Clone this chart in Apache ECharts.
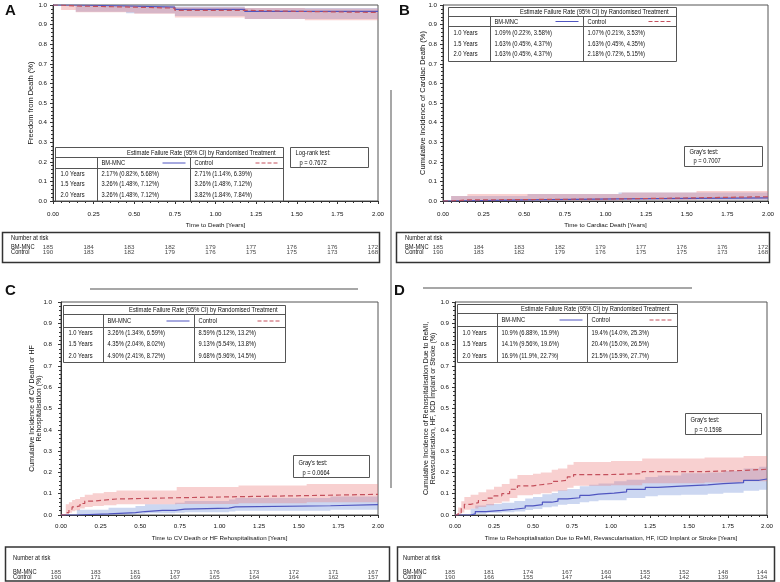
<!DOCTYPE html>
<html><head><meta charset="utf-8">
<script src="https://cdn.jsdelivr.net/npm/echarts@6/dist/echarts.min.js"></script>
<style>html,body{margin:0;padding:0;background:#fff}#c{width:780px;height:582px}</style>
</head><body><div id="c"></div>
<script>
// ---------------- DATA ----------------
const riskTimes = [0, 0.25, 0.5, 0.75, 1.0, 1.25, 1.5, 1.75, 2.0];
const riskA_bm  = [185, 184, 183, 182, 179, 177, 176, 176, 172];
const riskA_ctl = [190, 183, 182, 179, 176, 175, 175, 173, 168];
const riskB_bm  = [185, 184, 183, 182, 179, 177, 176, 176, 172];
const riskB_ctl = [190, 183, 182, 179, 176, 175, 175, 173, 168];
const riskC_bm  = [185, 183, 181, 179, 176, 173, 172, 171, 167];
const riskC_ctl = [190, 171, 169, 167, 165, 164, 164, 162, 157];
const riskD_bm  = [185, 181, 174, 167, 160, 155, 152, 148, 144];
const riskD_ctl = [190, 166, 155, 147, 144, 142, 142, 139, 134];

// Panel A: freedom from death
const A_bm_t   = [0, 0.14, 0.45, 0.75, 1.18, 2.0];
const A_bm_est = [1, 0.995, 0.989, 0.978, 0.967, 0.967];
const A_bm_lo  = [1, 0.965, 0.958, 0.944, 0.929, 0.929];
const A_bm_hi  = [1, 0.999, 0.997, 0.992, 0.985, 0.985];
const A_ctl_t   = [0, 0.05, 0.14, 0.5, 0.75, 1.18, 1.55, 2.0];
const A_ctl_est = [1, 0.995, 0.989, 0.984, 0.973, 0.967, 0.962, 0.962];
const A_ctl_lo  = [1, 0.975, 0.963, 0.955, 0.936, 0.929, 0.922, 0.922];
const A_ctl_hi  = [1, 0.999, 0.996, 0.994, 0.989, 0.985, 0.982, 0.982];

// Panel B: cardiac death
const B_bm_t   = [0, 0.05, 0.52, 1.08, 2.0];
const B_bm_est = [0, 0.0054, 0.0109, 0.0163, 0.0163];
const B_bm_lo  = [0, 0.001, 0.0022, 0.0045, 0.0045];
const B_bm_hi  = [0, 0.025, 0.0358, 0.0437, 0.0437];
const B_ctl_t   = [0, 0.05, 0.15, 1.10, 1.56, 2.0];
const B_ctl_est = [0, 0.0053, 0.0107, 0.0163, 0.0218, 0.0218];
const B_ctl_lo  = [0, 0.001, 0.0021, 0.0045, 0.0072, 0.0072];
const B_ctl_hi  = [0, 0.025, 0.0353, 0.0435, 0.0515, 0.0515];

// Panel C: CV death or HF rehospitalisation
const C_bm_t   = [0, 0.1, 0.3, 0.47, 0.53, 0.64, 0.72, 0.78, 1.06, 1.1, 1.7, 2.0];
const C_bm_est = [0, 0.0054, 0.0108, 0.0163, 0.0217, 0.0217, 0.0272, 0.0326, 0.0381, 0.0435, 0.049, 0.049];
const C_bm_lo  = [0, 0.0008, 0.0028, 0.0053, 0.0082, 0.0082, 0.011, 0.0134, 0.0168, 0.0204, 0.0241, 0.0241];
const C_bm_hi  = [0, 0.025, 0.034, 0.042, 0.05, 0.05, 0.058, 0.0659, 0.073, 0.0802, 0.0872, 0.0872];
const C_ctl_t   = [0, 0.03, 0.05, 0.07, 0.09, 0.12, 0.15, 0.2, 0.27, 0.35, 0.73, 1.12, 1.55, 2.0];
const C_ctl_est = [0, 0.011, 0.027, 0.038, 0.043, 0.054, 0.065, 0.07, 0.075, 0.081, 0.086, 0.091, 0.097, 0.097];
const C_ctl_lo  = [0, 0.002, 0.01, 0.018, 0.022, 0.03, 0.038, 0.042, 0.046, 0.05, 0.0512, 0.0554, 0.0596, 0.0596];
const C_ctl_hi  = [0, 0.05, 0.06, 0.07, 0.075, 0.085, 0.095, 0.102, 0.108, 0.115, 0.132, 0.138, 0.145, 0.145];

// Panel D: rehospitalisation composite
const D_bm_t   = [0, 0.1, 0.13, 0.2, 0.3, 0.38, 0.45, 0.5, 0.56, 0.62, 0.66, 0.72, 0.8, 0.86, 0.92, 1.02, 1.1, 1.22, 1.3, 1.45, 1.62, 1.72, 1.85, 1.95, 2.0];
const D_bm_est = [0, 0.005, 0.016, 0.022, 0.027, 0.033, 0.043, 0.049, 0.06, 0.065, 0.076, 0.081, 0.092, 0.098, 0.103, 0.109, 0.12, 0.13, 0.136, 0.141, 0.147, 0.152, 0.163, 0.169, 0.169];
const D_bm_lo  = [0, 0.0005, 0.006, 0.01, 0.013, 0.017, 0.024, 0.028, 0.036, 0.04, 0.048, 0.052, 0.06, 0.065, 0.069, 0.0688, 0.08, 0.088, 0.093, 0.0956, 0.1, 0.105, 0.114, 0.119, 0.119];
const D_bm_hi  = [0, 0.03, 0.045, 0.052, 0.058, 0.066, 0.077, 0.085, 0.097, 0.103, 0.116, 0.122, 0.135, 0.142, 0.148, 0.159, 0.165, 0.178, 0.185, 0.196, 0.2, 0.206, 0.218, 0.227, 0.227];
const D_ctl_t   = [0, 0.02, 0.04, 0.06, 0.1, 0.15, 0.2, 0.25, 0.3, 0.35, 0.4, 0.5, 0.55, 0.62, 0.66, 0.72, 0.76, 1.0, 1.2, 1.6, 1.85, 2.0];
const D_ctl_est = [0, 0.011, 0.032, 0.05, 0.058, 0.068, 0.079, 0.09, 0.1, 0.121, 0.137, 0.142, 0.148, 0.158, 0.163, 0.179, 0.19, 0.194, 0.204, 0.209, 0.215, 0.215];
const D_ctl_lo  = [0, 0.001, 0.012, 0.025, 0.031, 0.038, 0.046, 0.055, 0.063, 0.08, 0.093, 0.097, 0.102, 0.11, 0.114, 0.128, 0.137, 0.14, 0.149, 0.153, 0.159, 0.159];
const D_ctl_hi  = [0, 0.035, 0.065, 0.085, 0.095, 0.107, 0.12, 0.133, 0.145, 0.17, 0.188, 0.194, 0.2, 0.212, 0.218, 0.236, 0.249, 0.253, 0.265, 0.27, 0.277, 0.277];

const tabA = [['1.0 Years','2.17% (0.82%, 5.68%)','2.71% (1.14%, 6.39%)'],['1.5 Years','3.26% (1.48%, 7.12%)','3.26% (1.48%, 7.12%)'],['2.0 Years','3.26% (1.48%, 7.12%)','3.82% (1.84%, 7.84%)']];
const tabB = [['1.0 Years','1.09% (0.22%, 3.58%)','1.07% (0.21%, 3.53%)'],['1.5 Years','1.63% (0.45%, 4.37%)','1.63% (0.45%, 4.35%)'],['2.0 Years','1.63% (0.45%, 4.37%)','2.18% (0.72%, 5.15%)']];
const tabC = [['1.0 Years','3.26% (1.34%, 6.59%)','8.59% (5.12%, 13.2%)'],['1.5 Years','4.35% (2.04%, 8.02%)','9.13% (5.54%, 13.8%)'],['2.0 Years','4.90% (2.41%, 8.72%)','9.68% (5.96%, 14.5%)']];
const tabD = [['1.0 Years','10.9% (6.88%, 15.9%)','19.4% (14.0%, 25.3%)'],['1.5 Years','14.1% (9.56%, 19.6%)','20.4% (15.0%, 26.5%)'],['2.0 Years','16.9% (11.9%, 22.7%)','21.5% (15.9%, 27.7%)']];
const tableTitle = 'Estimate Failure Rate (95% CI) by Randomised Treatment';
const groups = ['BM-MNC', 'Control'];
const testA = ['Log-rank test:', 'p = 0.7672'];
const testB = ["Gray's test:", 'p = 0.7007'];
const testC = ["Gray's test:", 'p = 0.0664'];
const testD = ["Gray's test:", 'p = 0.1598'];
const xTitles = ['Time to Death [Years]', 'Time to Cardiac Death [Years]', 'Time to CV Death or HF Rehospitalisation [Years]', 'Time to Rehospitalisation Due to ReMI, Revascularisation, HF, ICD Implant or Stroke [Years]'];
const yTitles = ['Freedom from Death (%)', 'Cumulative Incidence of Cardiac Death (%)', 'Cumulative Incidence of CV Death or HF\nRehospitalisation (%)', 'Cumulative Incidence of Rehospitalisation Due to ReMI,\nRevascularisation, HF, ICD Implant or Stroke (%)'];
const panelLetters = ['A', 'B', 'C', 'D'];

// ---------------- STYLE / LAYOUT ----------------
const FR = "'Liberation Sans',Arial,sans-serif";
const NARROW = 0.82;   // horizontal squeeze to emulate a narrow sans face
const BLUE = '#4f55c0', RED = '#c4505c';
const BLUE_BAND = 'rgba(110,140,215,0.35)', RED_BAND = 'rgba(235,120,120,0.35)';
const TXT = '#111', BORDER = '#555';

const panels = [
  { grid:{left:53, top:5, width:325, height:196}, risk:{left:53, top:244.5, width:325}, yGap:19, yMargin:6, xMargin:10, xGap:21, yFs:7.5,
    bm:[A_bm_t,A_bm_est,A_bm_lo,A_bm_hi], ctl:[A_ctl_t,A_ctl_est,A_ctl_lo,A_ctl_hi], rb:riskA_bm, rc:riskA_ctl },
  { grid:{left:443, top:5, width:325, height:196}, risk:{left:443, top:244.5, width:325}, yGap:17, yMargin:6, xMargin:10, xGap:21, yFs:7.5,
    bm:[B_bm_t,B_bm_est,B_bm_lo,B_bm_hi], ctl:[B_ctl_t,B_ctl_est,B_ctl_lo,B_ctl_hi], rb:riskB_bm, rc:riskB_ctl },
  { grid:{left:61, top:302, width:317, height:213}, risk:{left:61, top:569.5, width:317}, yGap:18, yMargin:9, xMargin:8, xGap:20, yFs:7,
    bm:[C_bm_t,C_bm_est,C_bm_lo,C_bm_hi], ctl:[C_ctl_t,C_ctl_est,C_ctl_lo,C_ctl_hi], rb:riskC_bm, rc:riskC_ctl },
  { grid:{left:455, top:302, width:312, height:213}, risk:{left:455, top:569.5, width:312}, yGap:18, yMargin:6, xMargin:8, xGap:20, yFs:7,
    bm:[D_bm_t,D_bm_est,D_bm_lo,D_bm_hi], ctl:[D_ctl_t,D_ctl_est,D_ctl_lo,D_ctl_hi], rb:riskD_bm, rc:riskD_ctl }
];

const grids = [], xAxes = [], yAxes = [], series = [];
const pairs = (t, v) => t.map((x, i) => [x, v[i]]);

function bandSeries(k, d, col) {
  // d = [times, est, lo, hi]; a single step-shaped polygon drawn through the axis scales
  return {
    type:'custom', xAxisIndex:k, yAxisIndex:k, silent:true, z:1, clip:true,
    data:d[0].map((t, i) => [t, d[2][i], d[3][i]]),
    renderItem:(params, api) => {
      if (params.dataIndex !== 0) return null;
      const t = d[0], lo = d[2], hi = d[3], n = t.length;
      const up = [], dn = [];
      for (let i = 0; i < n; i++) {
        const tn = i < n - 1 ? t[i + 1] : t[i];
        up.push(api.coord([t[i], hi[i]]), api.coord([tn, hi[i]]));
        dn.push(api.coord([t[i], lo[i]]), api.coord([tn, lo[i]]));
      }
      return { type:'polygon', shape:{ points:up.concat(dn.reverse()) }, style:{ fill:col, stroke:null } };
    }
  };
}

panels.forEach((p, k) => {
  grids.push(Object.assign({ show:true, borderColor:BORDER, borderWidth:1, backgroundColor:'transparent' }, p.grid));
  xAxes.push({
    gridIndex:k, type:'value', min:0, max:2, interval:0.25,
    name:xTitles[k], nameLocation:'middle', nameGap:p.xGap, nameMoveOverlap:false,
    nameTextStyle:{ fontFamily:FR, fontSize:6.2, color:TXT },
    axisLine:{ show:true, onZero:false, lineStyle:{ color:'#333', width:1 } },
    axisTick:{ show:true, length:3, lineStyle:{ color:'#333' } },
    minorTick:{ show:true, splitNumber:5, length:2, lineStyle:{ color:'#333' } },
    splitLine:{ show:false },
    axisLabel:{ fontFamily:FR, fontSize:6.2, color:TXT, margin:p.xMargin, formatter:v => v.toFixed(2) }
  });
  yAxes.push({
    gridIndex:k, type:'value', min:0, max:1, interval:0.1,
    name:yTitles[k], nameLocation:'middle', nameGap:p.yGap, nameRotate:90, nameMoveOverlap:false,
    nameTextStyle:{ fontFamily:FR, fontSize:p.yFs, color:TXT, lineHeight:7 },
    axisLine:{ show:true, onZero:false, lineStyle:{ color:'#333', width:1 } },
    axisTick:{ show:true, length:3, lineStyle:{ color:'#333' } },
    minorTick:{ show:true, splitNumber:5, length:2, lineStyle:{ color:'#333' } },
    splitLine:{ show:false },
    axisLabel:{ fontFamily:FR, fontSize:6.2, color:TXT, margin:p.yMargin, formatter:v => v.toFixed(1) }
  });
  series.push(bandSeries(k, p.bm, BLUE_BAND));
  series.push(bandSeries(k, p.ctl, RED_BAND));
  series.push({ type:'line', xAxisIndex:k, yAxisIndex:k, step:'end', symbol:'none', silent:true, z:3,
    lineStyle:{ color:BLUE, width:1.2 }, data:pairs(p.bm[0], p.bm[1]) });
  series.push({ type:'line', xAxisIndex:k, yAxisIndex:k, step:'end', symbol:'none', silent:true, z:3,
    lineStyle:{ color:RED, width:1.2, type:[5,3] }, data:pairs(p.ctl[0], p.ctl[1]) });
});

// risk-table grids (hidden axes aligned with the time scale)
panels.forEach((p, k) => {
  const gi = 4 + k;
  grids.push({ left:p.risk.left, top:p.risk.top, width:p.risk.width, height:10, show:false });
  xAxes.push({ gridIndex:gi, type:'value', min:0, max:2, show:false });
  yAxes.push({ gridIndex:gi, type:'category', data:groups, inverse:true, show:false });
  const data = [];
  riskTimes.forEach((t, i) => { data.push([t, groups[0], p.rb[i]]); data.push([t, groups[1], p.rc[i]]); });
  series.push({ type:'scatter', xAxisIndex:gi, yAxisIndex:gi, symbol:'circle', symbolSize:1, silent:true,
    itemStyle:{ color:'rgba(0,0,0,0)' }, data,
    label:{ show:true, position:'inside', align:'center', verticalAlign:'middle', offset:[-5,0],
      formatter:q => String(q.value[2]), fontFamily:FR, fontSize:6.2, color:TXT } });
});

// ---------------- GRAPHICS (tables, boxes, labels) ----------------
const G = [];
const txt = (s, x, y, o, sx) => G.push({ type:'text', silent:true, z:20, x, y, scaleX:(sx === undefined ? NARROW : sx),
  style:Object.assign({ text:s, x:0, y:0, fill:TXT, fontFamily:FR, fontSize:7, align:'left', verticalAlign:'middle' }, o || {}) });
const rect = (x, y, w, h, lw, col) => G.push({ type:'rect', silent:true, z:19, shape:{ x, y, width:w, height:h }, style:{ fill:'#fff', stroke:col || BORDER, lineWidth:lw || 1 } });
const rectNoFill = (x, y, w, h, lw, col) => G.push({ type:'rect', silent:true, z:19, shape:{ x, y, width:w, height:h }, style:{ fill:'none', stroke:col || BORDER, lineWidth:lw || 1 } });
const line = (x1, y1, x2, y2, o) => G.push({ type:'line', silent:true, z:20, shape:{ x1, y1, x2, y2 }, style:Object.assign({ stroke:BORDER, lineWidth:1 }, o || {}) });

function table(L, rows) {
  rect(L.x, L.y, L.r - L.x, L.b - L.y, 1);
  line(L.x, L.l1, L.r, L.l1); line(L.x, L.l2, L.r, L.l2);
  line(L.c1, L.l1, L.c1, L.b); line(L.c2, L.l1, L.c2, L.b);
  txt(tableTitle, L.r - 8, (L.y + L.l1) / 2 + 0.5, { align:'right' });
  const hy = (L.l1 + L.l2) / 2;
  txt(groups[0], L.c1 + 4, hy + 0.5); txt(groups[1], L.c2 + 4, hy + 0.5);
  line(L.c2 - 28, hy, L.c2 - 5, hy, { stroke:BLUE, lineWidth:1 });
  line(L.r - 28, hy, L.r - 5, hy, { stroke:RED, lineWidth:1, lineDash:[4,2] });
  rows.forEach((r, i) => {
    txt(r[0], L.x + 5, L.rows[i]); txt(r[1], L.c1 + 4, L.rows[i]); txt(r[2], L.c2 + 4, L.rows[i]);
  });
}
table({ x:55.5, y:147.5, r:283.5, b:201, c1:97.5, c2:190.5, l1:157.5, l2:168.5, rows:[174,184.5,195] }, tabA);
table({ x:448.5, y:7.5, r:676.5, b:61.5, c1:490.5, c2:583.5, l1:16.5, l2:26.5, rows:[33,44,54] }, tabB);
table({ x:63.5, y:305.5, r:285.5, b:362.5, c1:103.5, c2:194.5, l1:314.5, l2:327.5, rows:[333.5,344.5,356] }, tabC);
table({ x:457.5, y:304.5, r:677.5, b:362.5, c1:497.5, c2:587.5, l1:313.5, l2:326.5, rows:[333.5,344.5,356] }, tabD);

function statBox(x, y, w, h, t, ty1, ty2) {
  rect(x, y, w, h, 1);
  txt(t[0], x + 5, ty1); txt(t[1], x + 9, ty2);
}
statBox(290.5, 147.5, 78, 20, testA, 153, 163);
statBox(684.5, 146.5, 78, 20, testB, 152, 161.5);
statBox(293.5, 455.5, 76, 22, testC, 463, 473);
statBox(685.5, 413.5, 76, 21, testD, 420, 430);

function riskBox(x, y, w, h, tx, ty0, ty1, ty2) {
  rectNoFill(x, y, w, h, 1.5, '#333');
  txt('Number at risk', tx, ty0);
  txt(groups[0], tx, ty1);
  txt(groups[1], tx, ty2);
}
riskBox(2.5, 232.5, 377, 30, 11, 238.5, 247, 252);
riskBox(396.5, 232.5, 373, 30, 405, 238.5, 247, 252);
riskBox(5.5, 547, 384, 34, 13, 558, 572, 577);
riskBox(397.5, 547, 377, 34, 403, 558, 572, 577);

// panel letters
[[5, 11], [399, 11], [5, 291], [394, 291]].forEach((pos, i) =>
  txt(panelLetters[i], pos[0], pos[1], { fontSize:15, fontWeight:'bold', fill:'#111' }, 1));

// decorative figure-edge lines
line(391, 90, 391, 488, { stroke:'#8a8a8a', lineWidth:1.5 });
line(90, 289, 358, 289, { stroke:'#8a8a8a', lineWidth:1.5 });
line(423, 288, 692, 288, { stroke:'#8a8a8a', lineWidth:1.5 });

const chart = echarts.init(document.getElementById('c'), null, { renderer:'canvas' });
chart.setOption({
  animation:false,
  backgroundColor:'#fff',
  grid:grids, xAxis:xAxes, yAxis:yAxes, series, graphic:G
});
</script>
</body></html>
